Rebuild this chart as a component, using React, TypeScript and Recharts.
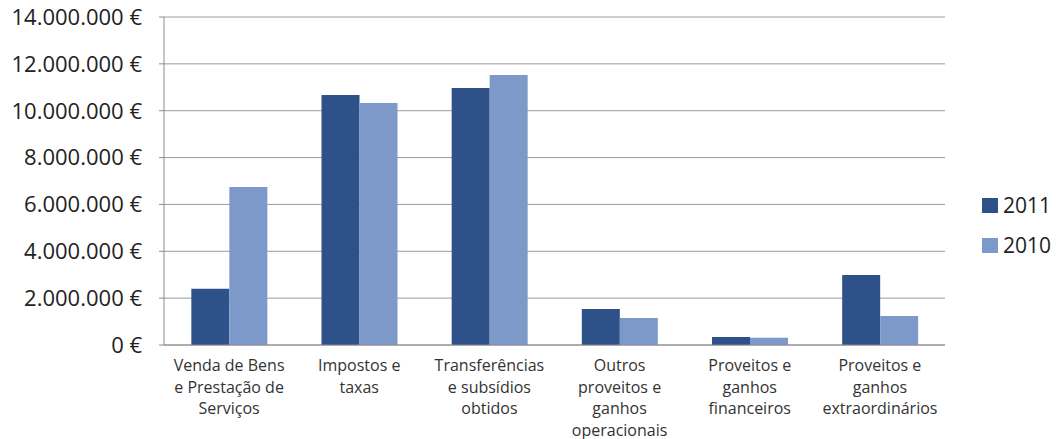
import React from "react";
import { BarChart, Bar, XAxis, YAxis, CartesianGrid } from "recharts";

const categories = [
  "Venda de Bens\ne Prestação de\nServiços",
  "Impostos e\ntaxas",
  "Transferências\ne subsídios\nobtidos",
  "Outros\nproveitos e\nganhos\noperacionais",
  "Proveitos e\nganhos\nfinanceiros",
  "Proveitos e\nganhos\nextraordinários",
];
const values2011 = [2400000, 10670000, 10970000, 1540000, 340000, 2990000];
const values2010 = [6740000, 10330000, 11520000, 1150000, 310000, 1240000];
const yTicks = [0, 2000000, 4000000, 6000000, 8000000, 10000000, 12000000, 14000000];

const series = [
  { key: "y2011", name: "2011", color: "#2E5189" },
  { key: "y2010", name: "2010", color: "#7D99CA" },
];

const data = categories.map((name, i) => ({
  name,
  y2011: values2011[i],
  y2010: values2010[i],
}));

const FONT = "'Open Sans', sans-serif";

const formatEuro = (v: number) =>
  v.toString().replace(/\B(?=(\d{3})+(?!\d))/g, ".") + " €";

function CategoryTick(props: any) {
  const { x, y, payload } = props;
  const lines = String(payload.value).split("\n");
  return (
    <text x={x} y={y} textAnchor="middle" fontFamily={FONT} fontSize={16} fill="#333">
      {lines.map((line: string, i: number) => (
        <tspan key={i} x={x} dy={i === 0 ? 18 : 21.5}>
          {line}
        </tspan>
      ))}
    </text>
  );
}

export default function App() {
  return (
    <div style={{ position: "absolute", left: 0, top: 0, width: 1060, height: 439, background: "#fff" }}>
      <BarChart
        width={1060}
        height={439}
        data={data}
        margin={{ top: 17, right: 115, bottom: 0, left: 0 }}
        barCategoryGap="21%"
        barGap={0}
      >
        <CartesianGrid vertical={false} stroke="#9a9a9a" />
        <XAxis
          dataKey="name"
          interval={0}
          tickLine={false}
          axisLine={{ stroke: "#8c8c8c" }}
          tick={<CategoryTick />}
          height={94}
        />
        <YAxis
          width={164}
          domain={[0, 14000000]}
          ticks={yTicks}
          tickFormatter={formatEuro}
          axisLine={{ stroke: "#8c8c8c" }}
          tickLine={{ stroke: "#8c8c8c" }}
          tickSize={5}
          tickMargin={17}
          tick={{ fontFamily: FONT, fontSize: 22, fill: "#222" }}
        />
        {series.map((s) => (
          <Bar key={s.key} dataKey={s.key} name={s.name} fill={s.color} isAnimationActive={false} />
        ))}
      </BarChart>
      <div style={{ position: "absolute", left: 982, top: 185, fontFamily: FONT, fontSize: 21, color: "#222" }}>
        {series.map((s) => (
          <div key={s.key} style={{ display: "flex", alignItems: "center", height: 40 }}>
            <span style={{ width: 16, height: 15, background: s.color, marginRight: 5, display: "inline-block" }} />
            {s.name}
          </div>
        ))}
      </div>
    </div>
  );
}
